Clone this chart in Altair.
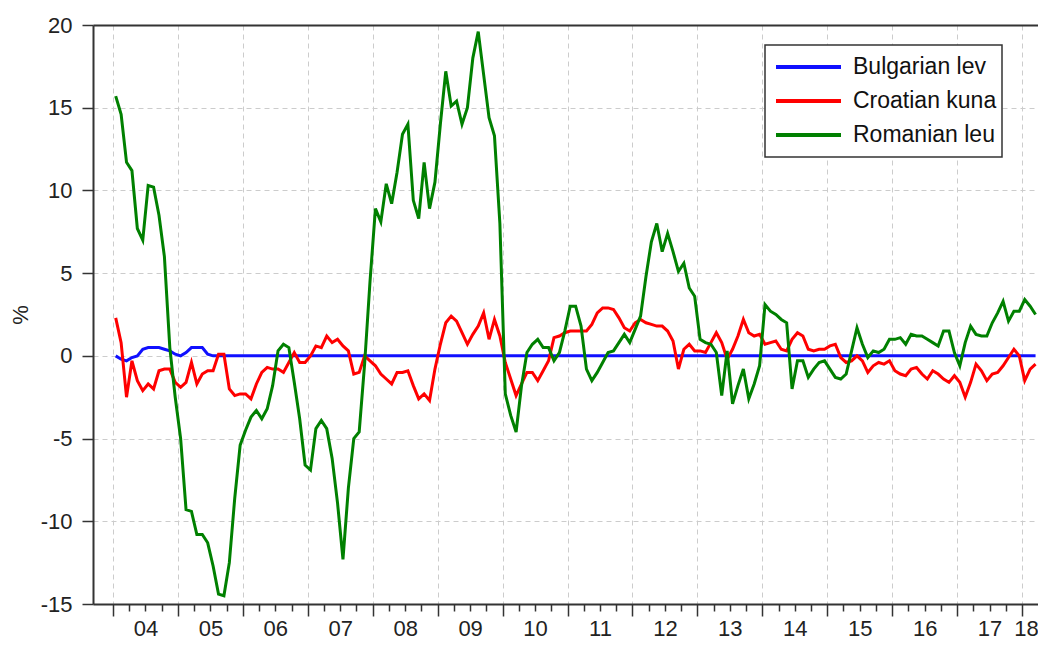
import altair as alt
import pandas as pd

series_names = ["Bulgarian lev", "Croatian kuna", "Romanian leu"]
series_colors = ["#1010ff", "#ff0000", "#008000"]

start_year = 2004

# monthly values, Jan 2004 .. Mar 2018 (%)
bulgarian = [0.0, -0.2, -0.3, -0.1, 0.0, 0.4, 0.5, 0.5, 0.5, 0.4, 0.3, 0.1,
             0.0, 0.2, 0.5, 0.5, 0.5, 0.1] + [0.0] * 153

croatian = [2.3, 0.8, -2.5, -0.3, -1.5, -2.1, -1.7, -2.0, -0.9, -0.8, -0.8, -1.6,
            -1.9, -1.6, -0.4, -1.7, -1.1, -0.9, -0.9, 0.1, 0.1, -2.0, -2.4, -2.3,
            -2.3, -2.6, -1.7, -1.0, -0.7, -0.8, -0.8, -1.0, -0.4, 0.2, -0.4, -0.4,
            0.0, 0.6, 0.5, 1.2, 0.8, 1.0, 0.6, 0.3, -1.1, -1.0, 0.0, -0.3,
            -0.6, -1.1, -1.4, -1.7, -1.0, -1.0, -0.9, -1.8, -2.6, -2.3, -2.7, -0.8,
            0.7, 2.0, 2.4, 2.1, 1.4, 0.7, 1.3, 1.8, 2.6, 1.0, 2.2, 1.2,
            -0.4, -1.4, -2.4, -1.7, -1.0, -1.0, -1.5, -0.9, -0.3, 1.1, 1.2, 1.4,
            1.5, 1.5, 1.5, 1.5, 1.9, 2.6, 2.9, 2.9, 2.8, 2.3, 1.7, 1.5,
            2.0, 2.2, 2.0, 1.9, 1.8, 1.8, 1.5, 0.9, -0.8, 0.4, 0.7, 0.3,
            0.3, 0.2, 0.8, 1.4, 0.8, -0.2, 0.4, 1.2, 2.2, 1.4, 1.2, 1.3,
            0.7, 0.8, 0.9, 0.4, 0.3, 1.0, 1.4, 1.2, 0.4, 0.3, 0.4, 0.4,
            0.6, 0.7, -0.1, -0.4, -0.3, 0.0, -0.3, -1.0, -0.6, -0.4, -0.5, -0.3,
            -0.9, -1.1, -1.2, -0.8, -0.7, -1.1, -1.4, -0.9, -1.1, -1.4, -1.6, -1.2,
            -1.6, -2.5, -1.6, -0.5, -0.9, -1.5, -1.1, -1.0, -0.6, -0.1, 0.4, 0.0,
            -1.5, -0.8, -0.5]

romanian = [15.7, 14.6, 11.7, 11.2, 7.7, 7.0, 10.3, 10.2, 8.5, 6.0, 0.5, -2.5,
            -5.0, -9.3, -9.4, -10.8, -10.8, -11.3, -12.7, -14.4, -14.5, -12.5, -8.6, -5.4,
            -4.5, -3.7, -3.3, -3.8, -3.2, -1.8, 0.3, 0.7, 0.5, -1.6, -3.8, -6.6,
            -6.9, -4.4, -3.9, -4.4, -6.2, -8.9, -12.3, -8.0, -5.0, -4.6, -0.5, 4.5,
            8.9, 8.1, 10.4, 9.2, 11.1, 13.4, 14.0, 9.4, 8.3, 11.7, 8.9, 10.5,
            14.0, 17.2, 15.1, 15.4, 14.0, 15.0, 18.0, 19.6, 17.0, 14.4, 13.3, 8.0,
            -2.3, -3.6, -4.6, -1.8, 0.2, 0.7, 1.0, 0.5, 0.5, -0.3, 0.2, 1.5,
            3.0, 3.0, 1.8, -0.8, -1.5, -1.0, -0.4, 0.2, 0.3, 0.8, 1.3, 0.8,
            1.6, 2.4, 4.8, 6.9, 8.0, 6.3, 7.4, 6.3, 5.1, 5.6, 4.1, 3.6,
            1.0, 0.8, 0.7, 0.2, -2.4, 0.3, -2.9, -1.8, -0.8, -2.6, -1.7, -0.6,
            3.1, 2.7, 2.5, 2.2, 2.0, -2.0, -0.3, -0.3, -1.3, -0.8, -0.4, -0.3,
            -0.8, -1.3, -1.4, -1.1, 0.3, 1.7, 0.7, -0.1, 0.3, 0.2, 0.4, 1.0,
            1.0, 1.1, 0.7, 1.3, 1.2, 1.2, 1.0, 0.8, 0.6, 1.5, 1.5, 0.2,
            -0.6, 0.8, 1.8, 1.3, 1.2, 1.2, 2.0, 2.6, 3.3, 2.1, 2.7, 2.7,
            3.4, 3.0, 2.5]

year_ticks = list(range(2004, 2019))
y_ticks = [-15, -10, -5, 0, 5, 10, 15, 20]

rows = []
for name, vals in zip(series_names, [bulgarian, croatian, romanian]):
    for i, v in enumerate(vals):
        rows.append({"t": start_year + (i + 0.5) / 12, "v": v, "series": name})
df = pd.DataFrame(rows)

minor_ticks = [y + q for y in range(2004, 2019) for q in (0.25, 0.5, 0.75) if y + q < 2018.24]
label_pos = [y + 0.5 for y in range(2004, 2018)] + [2018.06]

FONT = "Liberation Sans"
W, H = 945, 579
x_dom = [2003.692, 2018.246]
xs = alt.Scale(domain=x_dom, nice=False, zero=False)

lines = alt.Chart(df).mark_line(strokeWidth=3, clip=True).encode(
    x=alt.X("t:Q", scale=xs, axis=alt.Axis(
        orient="bottom", values=year_ticks, title=None, labels=False, grid=True,
        gridColor="#cccccc", gridDash=[5, 4], gridWidth=1,
        tickSize=12, tickColor="#333333", tickWidth=1.5,
        domainColor="#333333", domainWidth=2)),
    y=alt.Y("v:Q", scale=alt.Scale(domain=[-15, 20], nice=False, zero=False),
            axis=alt.Axis(values=y_ticks, title="%", titleFontSize=22, titleFont=FONT,
                          titleFontWeight="normal", titleColor="#222222",
                          titleBaseline="middle", titleAlign="center", titleX=-73,
                          labelExpr="'' + datum.value",
                          labelFontSize=22, labelFont=FONT, labelColor="#222222",
                          labelPadding=10, tickSize=11, tickColor="#333333", tickWidth=1.5,
                          domainColor="#333333", domainWidth=2,
                          grid=True, gridColor="#cccccc", gridDash=[5, 4], gridWidth=1)),
    color=alt.Color("series:N", scale=alt.Scale(domain=series_names, range=series_colors),
                    legend=alt.Legend(title=None, orient="none", legendX=672, legendY=20,
                                      symbolType="stroke", symbolSize=4225, symbolStrokeWidth=4,
                                      clipHeight=34, labelFontSize=23, labelFont=FONT,
                                      labelColor="#111111", labelOffset=10, symbolOffset=4,
                                      padding=5, strokeColor="#333333", fillColor="white",
                                      rowPadding=0, labelLimit=400)),
    detail="series:N",
)

minor = alt.Chart(df).mark_point(opacity=0).encode(
    x=alt.X("t:Q", scale=xs, axis=alt.Axis(
        orient="bottom", values=minor_ticks, title=None, labels=False, grid=False,
        domain=False, tickSize=7, tickColor="#333333", tickWidth=1.5)),
)

labels = alt.Chart(df).mark_point(opacity=0).encode(
    x=alt.X("t:Q", scale=xs, axis=alt.Axis(
        orient="bottom", values=label_pos, title=None, grid=False, domain=False,
        ticks=False, tickSize=0,
        labelExpr="slice(format(floor(datum.value), 'd'), 2)",
        labelFontSize=22, labelFont=FONT, labelColor="#222222", labelPadding=14,
        labelBaseline="top", labelOverlap=False, labelFlush=False, labelBound=False)),
)

top_border = alt.Chart(df).mark_point(opacity=0).encode(
    x=alt.X("t:Q", scale=xs, axis=alt.Axis(
        orient="top", values=year_ticks, title=None, labels=False, ticks=False,
        grid=False, domain=True, domainColor="#333333", domainWidth=2)),
)

chart = alt.layer(lines, minor, labels, top_border).resolve_scale(x="independent").resolve_axis(
    x="independent").properties(
    width=W, height=H, autosize="none",
    padding={"left": 85, "top": 17, "right": 0, "bottom": 36},
).configure_view(stroke=None).configure_legend(strokeWidth=1.5)

chart.save("out.html", embed_options={"renderer": "svg", "actions": False})
